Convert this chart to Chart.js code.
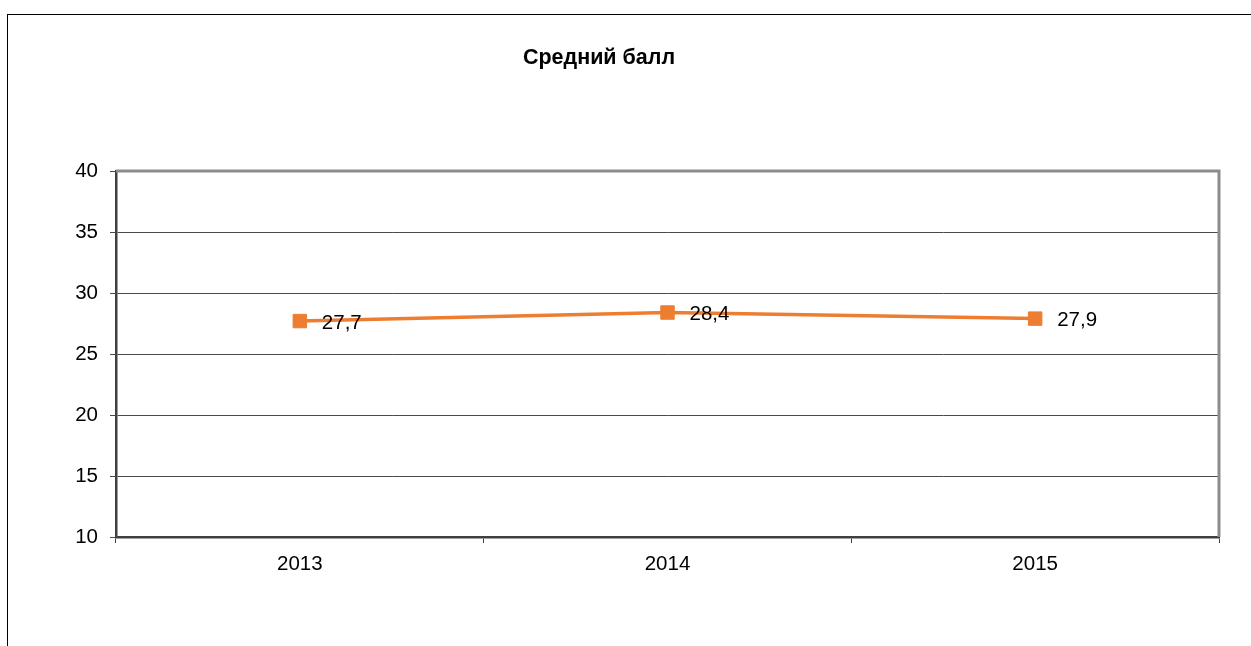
<!DOCTYPE html>
<html>
<head>
<meta charset="utf-8">
<script src="https://cdn.jsdelivr.net/npm/chart.js@4"></script>
<style>
  html, body { margin: 0; padding: 0; background: #fff; overflow: hidden; }
  #wrap { width: 1251px; height: 646px; position: relative; }
</style>
</head>
<body>
<div id="wrap"><canvas id="lineChart" width="1251" height="646"></canvas></div>
<script>
var years = ['2013', '2014', '2015'];
var avgScore = [27.7, 28.4, 27.9];
var chartTitle = 'Средний балл';
var yMin = 10, yMax = 40, yStep = 5;

var fontFamily = '"Liberation Sans", Arial, sans-serif';

// frame, plot border, title and value labels
var decor = {
    id: 'decor',
    beforeDatasetsDraw: function(chart) {
        var c = chart.ctx, a = chart.chartArea;
        c.save();
        c.strokeStyle = '#8c8c8c';
        c.lineWidth = 3;
        c.beginPath();
        c.moveTo(a.left, a.top);
        c.lineTo(a.right, a.top);
        c.lineTo(a.right, a.bottom);
        c.stroke();
        c.restore();
    },
    afterDraw: function(chart) {
        var c = chart.ctx;
        c.save();
        // outer chart frame
        c.strokeStyle = '#000';
        c.lineWidth = 1;
        c.strokeRect(7.5, 14.5, 3000, 3000);
        // title
        c.fillStyle = '#000';
        c.font = 'bold 21.5px ' + fontFamily;
        c.textAlign = 'center';
        c.textBaseline = 'middle';
        c.fillText(chartTitle, 599, 58);
        // data labels
        c.font = '20.5px ' + fontFamily;
        c.textAlign = 'left';
        var meta = chart.getDatasetMeta(0);
        meta.data.forEach(function(pt, i) {
            var txt = String(chart.data.datasets[0].data[i]).replace('.', ',');
            c.fillText(txt, pt.x + 22, pt.y + 2);
        });
        c.restore();
    }
};

var ctx = document.getElementById('lineChart').getContext('2d');
var lineChart = new Chart(ctx, {
    type: 'line',
    data: {
        labels: years,
        datasets: [{
            label: chartTitle,
            data: avgScore,
            borderColor: '#ED7D31',
            backgroundColor: '#ED7D31',
            borderWidth: 3.5,
            pointStyle: 'rect',
            pointRadius: 9.5,
            pointBorderWidth: 1,
            tension: 0
        }]
    },
    options: {
        responsive: false,
        animation: false,
        layout: { padding: { top: 171, right: 32, left: 0, bottom: 0 } },
        plugins: {
            legend: { display: false },
            title: { display: false },
            tooltip: { enabled: false }
        },
        scales: {
            x: {
                offset: true,
                grid: {
                    offset: true,
                    drawOnChartArea: false,
                    drawTicks: true,
                    tickLength: 6,
                    color: '#404040',
                    lineWidth: 1
                },
                border: { color: '#404040', width: 2.5 },
                ticks: { color: '#000', padding: 9, font: { size: 20.5, family: fontFamily } },
                afterFit: function(scale) { scale.height = 109; }
            },
            y: {
                min: yMin,
                max: yMax,
                grid: { color: '#4a4a4a', lineWidth: 1, tickLength: 6 },
                border: { color: '#404040', width: 2.5 },
                ticks: { stepSize: yStep, color: '#000', padding: 12, font: { size: 20.5, family: fontFamily } },
                afterFit: function(scale) { scale.width = 116; }
            }
        }
    },
    plugins: [decor]
});
</script>
</body>
</html>
